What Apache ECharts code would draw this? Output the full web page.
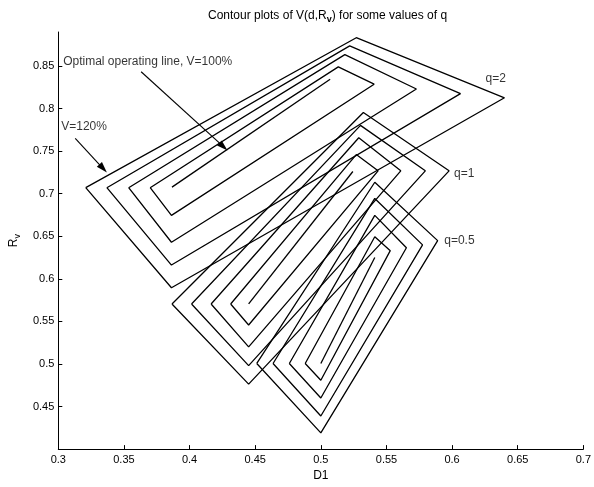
<!DOCTYPE html>
<html>
<head>
<meta charset="utf-8">
<script src="https://cdn.jsdelivr.net/npm/echarts@6/dist/echarts.min.js"></script>
<style>html,body{margin:0;padding:0;background:#fff}#c{width:594px;height:487px}</style>
</head>
<body>
<div id="c"></div>
<script>
// ---- Data ----
// Each ring: [left, top, right, bottom] corners as [D1, Rv]
const q2Rings = [
  [[0.3209,0.7071],[0.5270,0.8833],[0.6399,0.8127],[0.3862,0.5896]],
  [[0.3370,0.7071],[0.5220,0.8737],[0.6064,0.8176],[0.3862,0.6162]],
  [[0.3536,0.7071],[0.5183,0.8634],[0.5728,0.8230],[0.3862,0.6430]],
  [[0.3700,0.7071],[0.5133,0.8490],[0.5406,0.8287],[0.3862,0.6746]]
];
const q2Optimal = [[0.3866,0.7078],[0.5071,0.8344]];

const q1Rings = [
  [[0.3866,0.5705],[0.5324,0.7955],[0.5977,0.7269],[0.4450,0.4763]],
  [[0.4015,0.5705],[0.5302,0.7803],[0.5796,0.7269],[0.4450,0.4981]],
  [[0.4164,0.5705],[0.5289,0.7658],[0.5609,0.7269],[0.4450,0.5201]],
  [[0.4313,0.5705],[0.5270,0.7460],[0.5436,0.7269],[0.4450,0.5458]]
];
const q1Optimal = [[0.4450,0.5705],[0.5244,0.7261]];

const q05Rings = [
  [[0.4512,0.5006],[0.5411,0.7135],[0.5890,0.6449],[0.5000,0.4191]],
  [[0.4636,0.5006],[0.5411,0.6945],[0.5775,0.6399],[0.5000,0.4389]],
  [[0.4760,0.5006],[0.5411,0.6746],[0.5652,0.6365],[0.5000,0.4600]],
  [[0.4881,0.5006],[0.5411,0.6494],[0.5529,0.6331],[0.5000,0.4809]]
];
const q05Optimal = [[0.5000,0.5006],[0.5411,0.6251]];

const xTicks = [0.3,0.35,0.4,0.45,0.5,0.55,0.6,0.65,0.7];
const yTicks = [0.45,0.5,0.55,0.6,0.65,0.7,0.75,0.8,0.85];

const textLabels = [
  {text:'Optimal operating line, V=100%', at:[0.3037,0.8547]},
  {text:'V=120%', at:[0.3022,0.7784]},
  {text:'q=2', at:[0.6255,0.8356]},
  {text:'q=1', at:[0.6015,0.7231]},
  {text:'q=0.5', at:[0.5940,0.6449]}
];
// arrow start and tip
const arrows = [
  {from:[0.3631,0.8433], to:[0.4289,0.7509]},
  {from:[0.3129,0.7650], to:[0.3370,0.7249]}
];

// ---- Chart ----
const FONT = 'Liberation Sans, Arial, sans-serif';
const lineStyle = {color:'#000', width:1.3};
const HEAD = [7, 11];
const series = [];
function addRing(ring){
  series.push({type:'line', data: ring.concat([ring[0]]), symbol:'none',
    lineStyle: lineStyle, silent:true, animation:false});
}
[q2Rings, q1Rings, q05Rings].forEach(f => f.forEach(addRing));
[q2Optimal, q1Optimal, q05Optimal].forEach(seg => series.push({
  type:'line', data: seg, symbol:'none', lineStyle: lineStyle, silent:true, animation:false}));

function arrowData(list){
  return list.map(a => [{coord:a.from},{coord:a.to}]);
}
series.push({
  id:'annot',
  type:'scatter', symbolSize:0, silent:true, animation:false,
  data: textLabels.map(t => ({value:t.at, label:{show:true, formatter:t.text}})),
  label:{position:'right', distance:0, color:'#000', fontSize:12, fontFamily:FONT},
  markLine:{
    silent:true, animation:false,
    symbol:['none','triangle'], symbolSize:HEAD,
    lineStyle:{color:'#000', width:1.1, type:'solid'},
    label:{show:false},
    data: arrowData(arrows)
  }
});

const chart = echarts.init(document.getElementById('c'), null, {renderer:'canvas'});
chart.setOption({
  backgroundColor:'#fff',
  animation:false,
  title:{
    text:'{a|Contour plots of V(d,R}{s|v}{a|) for some values of q}',
    left:203, top:3,
    textStyle:{rich:{
      a:{fontSize:12, fontFamily:FONT, color:'#000', fontWeight:'normal'},
      s:{fontSize:9, fontFamily:FONT, color:'#000', padding:[7,0,0,0]}
    }}
  },
  grid:{left:52, right:5, top:32, bottom:27, containLabel:false},
  xAxis:{
    type:'value', min:0.3, max:0.7, interval:0.05,
    name:'D1', nameLocation:'middle', nameGap:18,
    nameTextStyle:{fontSize:12, fontFamily:FONT, color:'#000'},
    axisLine:{show:true, onZero:false, lineStyle:{color:'#000', width:1}},
    axisTick:{show:true, inside:true, length:4, lineStyle:{color:'#000'}},
    axisLabel:{color:'#000', fontSize:11, fontFamily:FONT, margin:5},
    splitLine:{show:false}
  },
  yAxis:{
    type:'value', min:0.4, max:0.89,
    name:'{a|R}{s|v}', nameLocation:'middle', nameGap:36, nameRotate:90,
    nameTextStyle:{rich:{
      a:{fontSize:12, fontFamily:FONT, color:'#000'},
      s:{fontSize:9, fontFamily:FONT, color:'#000', padding:[7,0,0,0]}
    }},
    axisLine:{show:true, onZero:false, lineStyle:{color:'#000', width:1}},
    axisTick:{show:true, inside:true, length:4, lineStyle:{color:'#000'}, customValues:yTicks},
    axisLabel:{color:'#000', fontSize:11, fontFamily:FONT, margin:4, customValues:yTicks},
    splitLine:{show:false}
  },
  series: series
});

// Pull each arrow's line end back by half the head length so the head's tip lands on the target.
const shifted = arrows.map(a => {
  const p1 = chart.convertToPixel({gridIndex:0}, a.from);
  const p2 = chart.convertToPixel({gridIndex:0}, a.to);
  const dx = p2[0]-p1[0], dy = p2[1]-p1[1];
  const len = Math.sqrt(dx*dx+dy*dy);
  const s = HEAD[1]/2;
  const end = [p2[0]-dx/len*s, p2[1]-dy/len*s];
  return {from:a.from, to: chart.convertFromPixel({gridIndex:0}, end)};
});
chart.setOption({series:[{id:'annot', markLine:{data: arrowData(shifted)}}]});
</script>
</body>
</html>
